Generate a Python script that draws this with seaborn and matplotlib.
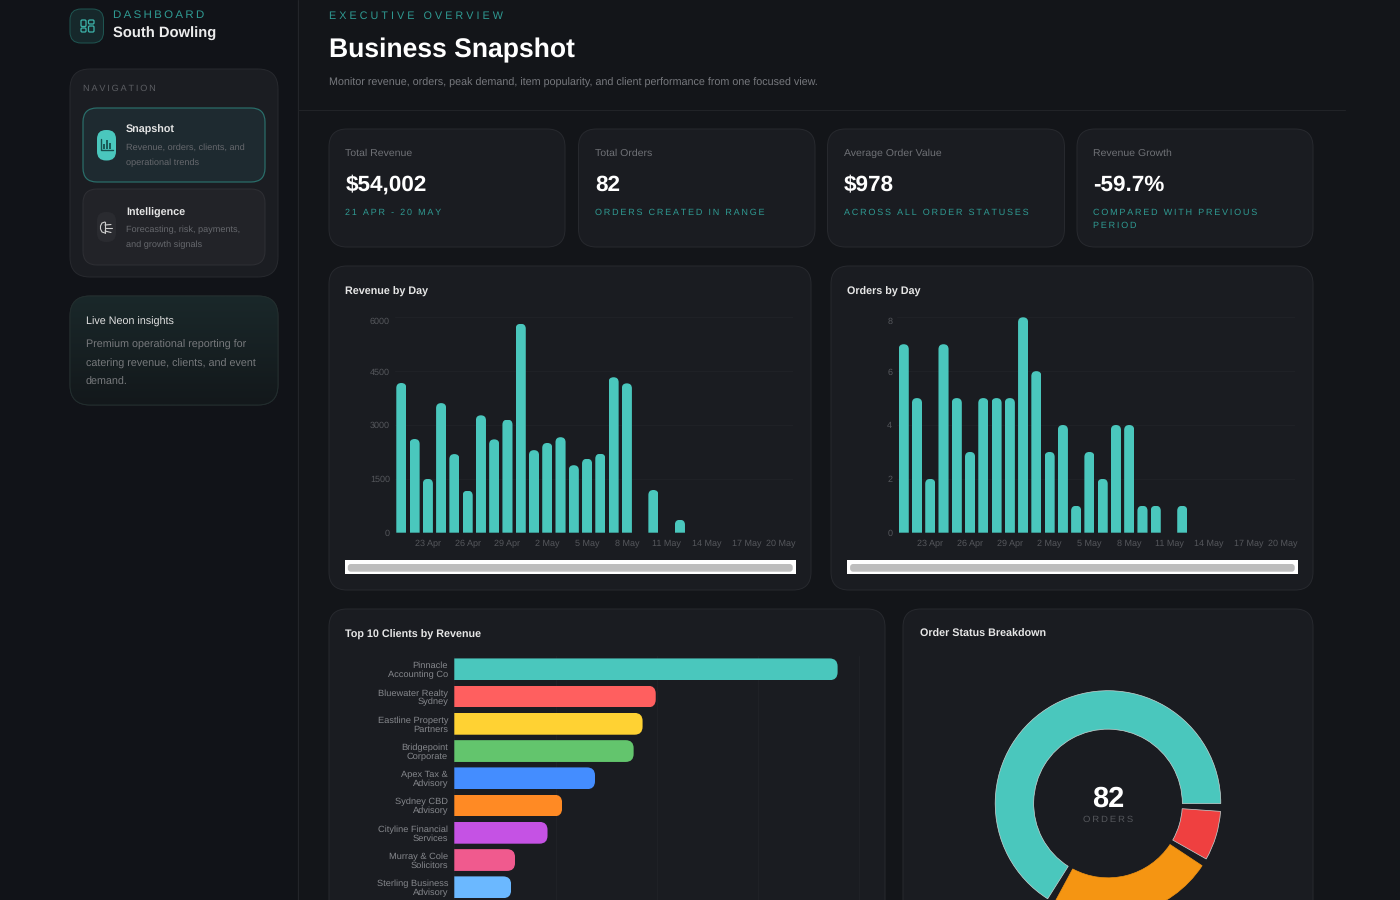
#Imports
import numpy as np
import matplotlib
matplotlib.use('Agg')
import matplotlib.pyplot as plt
import seaborn as sns
from matplotlib.patches import FancyBboxPatch, Rectangle
from matplotlib.path import Path
from matplotlib.transforms import ScaledTranslation

#Chart data
days = ['21 Apr', '22 Apr', '23 Apr', '24 Apr', '25 Apr', '26 Apr', '27 Apr', '28 Apr', '29 Apr', '30 Apr',
        '1 May', '2 May', '3 May', '4 May', '5 May', '6 May', '7 May', '8 May', '9 May', '10 May',
        '11 May', '12 May', '13 May', '14 May', '15 May', '16 May', '17 May', '18 May', '19 May', '20 May']
revenue = [4170, 2610, 1500, 3610, 2190, 1170, 3270, 2600, 3150, 5820,
           2300, 2500, 2660, 1880, 2060, 2200, 4330, 4160, 0, 1190,
           0, 360, 0, 0, 0, 0, 0, 0, 0, 0]
orders = [7, 5, 2, 7, 5, 3, 5, 5, 5, 8,
          6, 3, 4, 1, 3, 2, 4, 4, 1, 1,
          0, 1, 0, 0, 0, 0, 0, 0, 0, 0]
tick_days = ['23 Apr', '26 Apr', '29 Apr', '2 May', '5 May', '8 May', '11 May', '14 May', '17 May', '20 May']
revenue_ticks = [0, 1500, 3000, 4500, 6000]
orders_ticks = [0, 2, 4, 6, 8]

clients = ['Pinnacle\nAccounting Co', 'Bluewater Realty\nSydney', 'Eastline Property\nPartners',
           'Bridgepoint\nCorporate', 'Apex Tax &\nAdvisory', 'Sydney CBD\nAdvisory',
           'Cityline Financial\nServices', 'Murray & Cole\nSolicitors', 'Sterling Business\nAdvisory']
client_revenue = [11360, 5970, 5580, 5315, 4170, 3195, 2763, 1800, 1684]
client_colors = ['#4ac7bd', '#ff5f5f', '#ffd233', '#63c56d', '#448dff', '#ff8a24', '#c552e4', '#f05a8e', '#6bb8ff']
client_ticks = [0, 3000, 6000, 9000, 12000]

status_counts = [56, 20, 6]
status_colors = ['#4ac7bd', '#f59512', '#ef4040']

kpi_labels = ['Total Revenue', 'Total Orders', 'Average Order Value', 'Revenue Growth']
kpi_values = ['$54,002', '82', '$978', '-59.7%']
kpi_notes = [['21 APR - 20 MAY'], ['ORDERS CREATED IN RANGE'], ['ACROSS ALL ORDER STATUSES'],
             ['COMPARED WITH PREVIOUS', 'PERIOD']]

#Colors
PAGE = '#131519'
SIDE = '#111318'
CARD = '#1a1c21'
EDGE = '#27292e'
TEAL = '#4ac7bd'
TEAL_TXT = '#2f9a92'
GRID = '#1f2126'
TICK = '#55575c'

W, H = 1400, 900

sns.set_theme(style='dark', rc={'figure.facecolor': PAGE, 'axes.facecolor': 'none'})
plt.rcParams['font.family'] = ['Liberation Sans', 'DejaVu Sans']
plt.rcParams['text.hinting'] = 'no_hinting'

fig = plt.figure(figsize=(14, 9), dpi=100, facecolor=PAGE)

#Background layer in pixel coordinates
bg = fig.add_axes([0, 0, 1, 1], zorder=0)
bg.set_xlim(0, W)
bg.set_ylim(H, 0)
bg.axis('off')


def px(size):
    return size * 0.72


def spaced(s, sp='\u2009'):
    return sp.join(s)


def txt(x, y, s, size, color, weight='normal', ha='left', **kw):
    bg.text(x, y, s, fontsize=px(size), color=color, fontweight=weight, ha=ha, va='center', **kw)


def card(x0, y0, x1, y1, r, face=CARD, edge=EDGE, lw=1.0):
    patch = FancyBboxPatch((x0, y0), x1 - x0, y1 - y0, boxstyle=f'round,pad=0,rounding_size={r}',
                           facecolor=face, edgecolor=edge, linewidth=lw * 0.72)
    bg.add_patch(patch)
    return patch


def place(x0, y0, x1, y1):
    return fig.add_axes([x0 / W, 1 - y1 / H, (x1 - x0) / W, (y1 - y0) / H], zorder=2, facecolor='none')


def round_top(ax, r_px):
    #Rounded bar tops by clipping the seaborn bars
    ry = r_px * (ax.get_ylim()[1] - ax.get_ylim()[0]) / (ax.get_position().height * H)
    for bar in ax.patches:
        x, w, h = bar.get_x(), bar.get_width(), bar.get_height()
        if h <= 0:
            continue
        verts = [(x, 0), (x, h - ry), (x, h), (x + w / 2, h), (x + w, h), (x + w, h - ry), (x + w, 0), (x, 0)]
        codes = [Path.MOVETO, Path.LINETO, Path.CURVE3, Path.CURVE3, Path.CURVE3, Path.CURVE3, Path.LINETO, Path.CLOSEPOLY]
        bar.set_clip_path(Path(verts, codes), ax.transData)


def round_right(ax, r_px):
    rx = r_px * (ax.get_xlim()[1] - ax.get_xlim()[0]) / (ax.get_position().width * W)
    ry = r_px * abs(ax.get_ylim()[1] - ax.get_ylim()[0]) / (ax.get_position().height * H)
    for bar in ax.patches:
        w, y, h = bar.get_width(), bar.get_y(), bar.get_height()
        if w <= 0:
            continue
        verts = [(0, y), (w - rx, y), (w, y), (w, y + ry), (w, y + h - ry), (w, y + h), (w - rx, y + h), (0, y + h), (0, y)]
        codes = [Path.MOVETO, Path.LINETO, Path.CURVE3, Path.CURVE3, Path.LINETO, Path.CURVE3, Path.CURVE3, Path.LINETO, Path.CLOSEPOLY]
        bar.set_clip_path(Path(verts, codes), ax.transData)


#Sidebar and page frame
bg.add_patch(Rectangle((0, 0), 297, H, facecolor=SIDE, edgecolor='none'))
bg.plot([297.5, 297.5], [0, H], color='#23252a', lw=0.8)
bg.plot([298, 1345], [110, 110], color='#212327', lw=0.8)

#Logo
card(70, 9, 103.5, 43, 11, face='#16282b', edge='#1f5551')
for x0, y0, x1, y1 in [(81, 20, 86, 26.5), (88.5, 20, 94, 24), (81, 28, 86, 32), (88.5, 26, 94, 32)]:
    card(x0, y0, x1, y1, 1.2, face='none', edge='#3cb0a7', lw=1.3)
txt(113, 15, spaced('DASHBOARD'), 11.5, TEAL_TXT)
txt(113, 34, 'South Dowling', 14.7, '#ececec', weight='bold')

#Navigation panel
card(70, 69, 278, 277, 20, face='#1b1d22')
txt(83, 89, spaced('NAVIGATION'), 9.2, '#5b5d62')
card(83, 108, 265, 182, 14, face='#1e2a30', edge='#2a6f6b', lw=1.2)
card(83, 189, 265, 265, 14, face='#222328', edge='#2e2f34')
card(97, 130, 116, 160.5, 9, face=TEAL, edge='none')
bg.plot([101, 101, 112.5], [139, 149.5, 149.5], color='#17524f', lw=1.0)
bg.vlines([104, 107, 110], [144, 140, 143], [149, 149, 149], color='#17524f', lw=1.3)
card(97, 212, 116, 242, 9, face='#2a2b30', edge='none')
#small brain glyph
bg.plot([105, 102, 100.5, 100.5, 102, 105], [222, 223, 226, 229, 232, 233], color='#cfcfcf', lw=0.8)
bg.plot([105, 105], [222, 233], color='#cfcfcf', lw=0.8)
for y0, y1, x1 in [(225, 224.5, 111), (228, 228, 112), (231, 232.5, 111)]:
    bg.plot([105, x1], [y0, y1], color='#cfcfcf', lw=0.8)
txt(126, 129.5, 'Snapshot', 10.8, '#e5e5e5', weight='bold')
txt(126, 148, 'Revenue, orders, clients, and', 9.2, '#66686d')
txt(126, 163, 'operational trends', 9.2, '#66686d')
txt(126, 212.5, 'Intelligence', 10.8, '#e5e5e5', weight='bold')
txt(126, 230, 'Forecasting, risk, payments,', 9.2, '#66686d')
txt(126, 245, 'and growth signals', 9.2, '#66686d')

#Insight card with a soft teal gradient
insight = card(70, 296, 278, 405, 20, face='#172023')
shade = np.linspace(1, 0, 64)[:, None, None] * np.array([0x1a, 0x28, 0x2a]) / 255 + \
    np.linspace(0, 1, 64)[:, None, None] * np.array([0x13, 0x18, 0x1b]) / 255
im = bg.imshow(shade, extent=(70, 278, 405, 296), aspect='auto', zorder=1.5)
im.set_clip_path(insight)
bg.set_xlim(0, W)
bg.set_ylim(H, 0)
card(70, 296, 278, 405, 20, face='none', edge='#222e2e').set_zorder(1.6)
txt(86, 322, 'Live Neon insights', 10.8, '#e0e0e0', zorder=3)
for y, line in zip([345, 364, 382], ['Premium operational reporting for', 'catering revenue, clients, and event', 'demand.']):
    txt(86, y, line, 10.8, '#77797c', zorder=3)

#Page header
txt(329, 16, spaced('EXECUTIVE OVERVIEW', '\u2009\u200a'), 10.8, TEAL_TXT)
txt(329, 50, 'Business Snapshot', 26.5, '#ffffff', weight='bold')
txt(329, 82.5, 'Monitor revenue, orders, peak demand, item popularity, and client performance from one focused view.', 10.7, '#77797e')

#KPI cards
kpi_x = [(329, 565), (578.5, 815), (827.5, 1064.5), (1077, 1313)]
for (x0, x1), label, value, note in zip(kpi_x, kpi_labels, kpi_values, kpi_notes):
    card(x0, 129, x1, 247, 18)
    txt(x0 + 16.3, 153.5, label, 10.5, '#6f7176')
    txt(x0 + 16.3, 185, value, 22.5, '#ffffff', weight='bold')
    for i, line in enumerate(note):
        txt(x0 + 16.3, 213 + i * 12.5, spaced(line), 9, TEAL_TXT)

#Chart cards
card(329, 266, 811, 590, 18)
card(831, 266, 1313, 590, 18)
card(329, 609, 885, 960, 18)
card(903, 609, 1313, 960, 18)
txt(345, 292, 'Revenue by Day', 10.8, '#e6e6e6', weight='bold')
txt(847, 292, 'Orders by Day', 10.8, '#e6e6e6', weight='bold')
txt(345, 634.5, 'Top 10 Clients by Revenue', 10.8, '#e6e6e6', weight='bold')
txt(920, 634.5, 'Order Status Breakdown', 10.8, '#e6e6e6', weight='bold')


def day_chart(x0, x1, values, yticks):
    ax = place(x0, 317.3, x1, 532.7)
    sns.barplot(x=days, y=values, color=TEAL, saturation=1, width=0.76, linewidth=0, ax=ax)
    ax.set_xlim(-0.5, 29.5)
    ax.set_ylim(yticks[0], yticks[-1])
    ax.set_xticks(list(range(2, 30, 3)), tick_days)
    ax.set_yticks(yticks)
    ax.set_xlabel('')
    ax.set_ylabel('')
    ax.grid(axis='y', color=GRID, lw=0.8)
    ax.grid(axis='x', visible=False)
    ax.set_axisbelow(True)
    sns.despine(ax=ax, left=True, bottom=True)
    ax.tick_params(length=0, labelsize=px(9), labelcolor=TICK)
    ax.tick_params(axis='x', pad=5)
    ax.tick_params(axis='y', pad=3.5)
    #end labels are pushed inside the chart box like the original
    lab = ax.get_xticklabels()[-1]
    lab.set_transform(lab.get_transform() + ScaledTranslation(-5.3 / 100, 0, fig.dpi_scale_trans))
    lab = ax.get_yticklabels()[-1]
    lab.set_transform(lab.get_transform() + ScaledTranslation(0, -3 / 100, fig.dpi_scale_trans))
    round_top(ax, 5)
    return ax


day_chart(394.7, 792.7, revenue, revenue_ticks)
day_chart(897.1, 1295, orders, orders_ticks)

#Range slider strips under the day charts
for x0, x1 in [(345, 795.7), (847.3, 1297.7)]:
    bg.add_patch(Rectangle((x0, 560), x1 - x0, 14, facecolor='#ffffff', edgecolor='none', zorder=3))
    p = card(x0 + 2.8, 564, x1 - 3, 571.7, 3, face='#bdbdbd', edge='none')
    p.set_zorder(4)

#Top clients
ax3 = place(454.3, 655.7, 859.2, 900.9)
sns.barplot(x=client_revenue, y=clients, hue=clients, palette=client_colors, dodge=False, saturation=1,
            width=0.8, linewidth=0, legend=False, orient='h', ax=ax3)
ax3.set_xlim(client_ticks[0], client_ticks[-1])
ax3.set_xticks(client_ticks)
ax3.set_xticklabels([])
ax3.set_xlabel('')
ax3.set_ylabel('')
ax3.grid(axis='x', color=GRID, lw=0.8)
ax3.grid(axis='y', visible=False)
ax3.set_axisbelow(True)
for line in ax3.get_xgridlines():
    line.set_clip_on(False)
sns.despine(ax=ax3, left=True, bottom=True)
ax3.tick_params(length=0, pad=4.5, labelsize=px(9.3), labelcolor='#85878c')
for lab in ax3.get_yticklabels():
    lab.set_linespacing(1.08)
round_right(ax3, 8)

#Order status donut
ax4 = place(1108 - 112.8, 803.5 - 112.8, 1108 + 112.8, 803.5 + 112.8)
wedges, _ = ax4.pie(status_counts, colors=status_colors, startangle=0, radius=1, frame=False,
                    wedgeprops={'width': 0.341, 'edgecolor': '#c9d6d4', 'linewidth': 0.5, 'clip_on': False})
ax4.set_xlim(-1, 1)
ax4.set_ylim(-1, 1)
#gap of 4 degrees between the slices
pad = 4.0
keep = (360 - pad * len(wedges)) / 360
for i, w in enumerate(wedges):
    t1, t2 = w.theta1 * keep + i * pad, w.theta2 * keep + i * pad
    w.set_theta1(t1)
    w.set_theta2(t2)
wedges[1].set_edgecolor('#f59512')
ax4.text(0, 0.04, '82', fontsize=px(29), color='#ffffff', fontweight='bold', ha='center', va='center')
ax4.text(0, -0.14, spaced('ORDERS'), fontsize=px(9.5), color='#55575c', ha='center', va='center')

fig.savefig('out.png', dpi=100, facecolor=PAGE)
plt.close(fig)
